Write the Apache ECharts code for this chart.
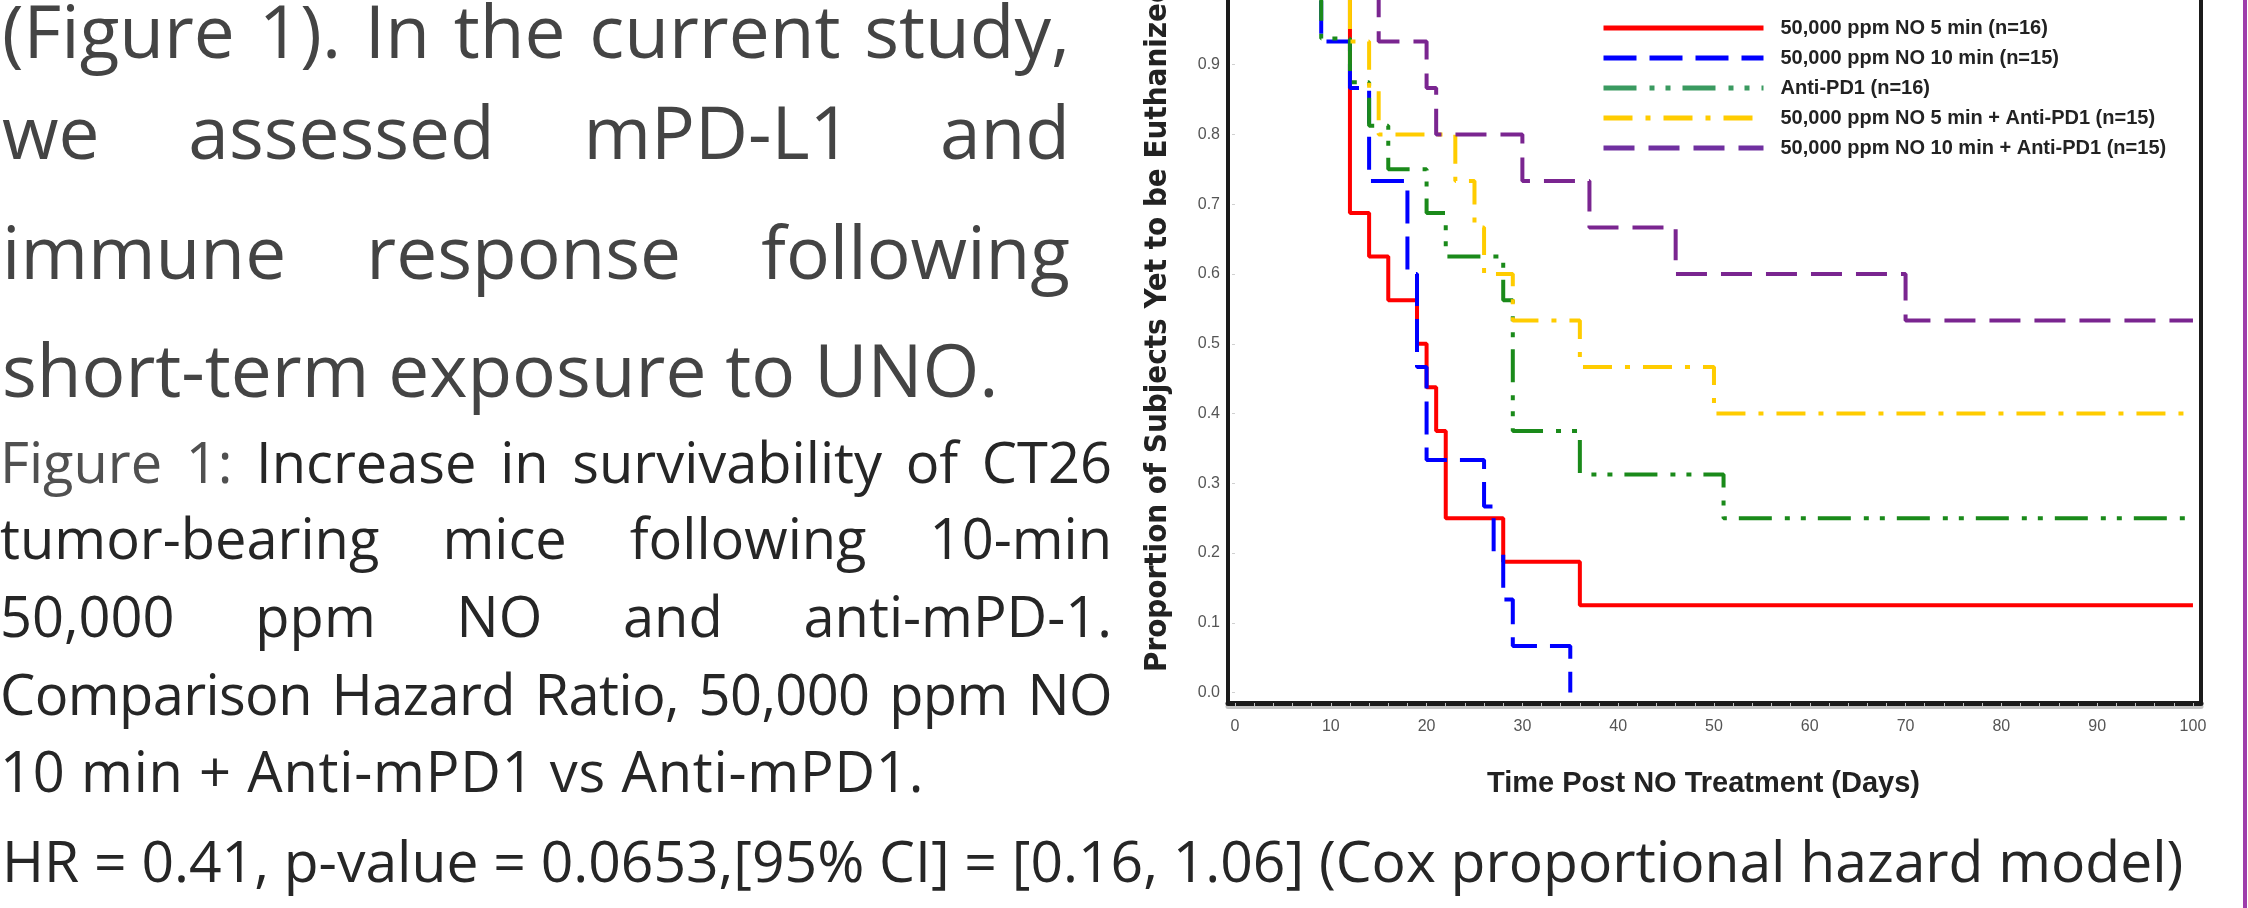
<!DOCTYPE html>
<html>
<head>
<meta charset="utf-8">
<script src="https://cdn.jsdelivr.net/npm/echarts@6/dist/echarts.min.js"></script>
<style>
  body { margin: 0; background: #fff; width: 2248px; height: 908px; overflow: hidden; position: relative; }
  #chart { position: absolute; left: 0; top: 0; width: 2248px; height: 908px; }
  .ln { position: absolute; font-family: 'Open Sans', sans-serif; line-height: 1; white-space: pre; }
</style>
</head>
<body>
<div id="chart"></div>
<script>
// survival curves: day of each step and proportion after it
const days5 = [0, 12, 14, 16, 19, 20, 21, 22, 28, 36, 100];
const surv5 = [1, 0.6875, 0.625, 0.5625, 0.5, 0.4375, 0.375, 0.25, 0.1875, 0.125, 0.125];

const days10 = [0, 9, 12, 14, 18, 19, 20, 26, 27, 28, 29, 35];
const surv10 = [1, 0.9333, 0.8667, 0.7333, 0.6, 0.4667, 0.3333, 0.2667, 0.2, 0.1333, 0.0667, 0];

const daysPD1 = [0, 9, 12, 14, 16, 20, 22, 28, 29, 36, 51, 100];
const survPD1 = [1, 0.9375, 0.875, 0.8125, 0.75, 0.6875, 0.625, 0.5625, 0.375, 0.3125, 0.25, 0.25];

const days5PD1 = [0, 12, 14, 15, 23, 25, 26, 29, 36, 50, 100];
const surv5PD1 = [1, 0.9333, 0.8667, 0.8, 0.7333, 0.6667, 0.6, 0.5333, 0.4667, 0.4, 0.4];

const days10PD1 = [0, 15, 20, 21, 30, 37, 46, 70, 100];
const surv10PD1 = [1, 0.9333, 0.8667, 0.8, 0.7333, 0.6667, 0.6, 0.5333, 0.5333];

const names = [
    '50,000 ppm NO 5 min (n=16)',
    '50,000 ppm NO 10 min (n=15)',
    'Anti-PD1 (n=16)',
    '50,000 ppm NO 5 min + Anti-PD1 (n=15)',
    '50,000 ppm NO 10 min + Anti-PD1 (n=15)'
];

const xTicks = [0, 10, 20, 30, 40, 50, 60, 70, 80, 90, 100];
const yTicks = [0, 0.1, 0.2, 0.3, 0.4, 0.5, 0.6, 0.7, 0.8, 0.9, 1.0];
const xMinorTicks = [];
for (let d = 0; d <= 100; d += 2) xMinorTicks.push(d);

function pairs(xs, ys) {
    return xs.map((x, i) => [x, ys[i]]);
}

// left hand poster text
const bigLines = [
    '(Figure 1). In the current study,',
    'we assessed mPD-L1 and',
    'immune response following',
    'short-term exposure to UNO.'
];
const captionLines = [
    'Figure 1: Increase in survivability of CT26',
    'tumor-bearing mice following 10-min',
    '50,000 ppm NO and anti-mPD-1.',
    'Comparison Hazard Ratio, 50,000 ppm NO',
    '10 min + Anti-mPD1 vs Anti-mPD1.'
];
const hrLine = 'HR = 0.41, p-value = 0.0653,[95% CI] = [0.16, 1.06] (Cox proportional hazard model)';

function addLine(text, x, baseline, size, width, color, justify, lightWords, spacing) {
    const d = document.createElement('div');
    d.className = 'ln';
    d.style.left = x + 'px';
    d.style.top = (baseline - 0.888 * size) + 'px';
    d.style.fontSize = size + 'px';
    d.style.color = color;
    if (spacing) d.style.letterSpacing = spacing + 'px';
    if (justify) {
        d.style.width = width + 'px';
        d.style.display = 'flex';
        d.style.justifyContent = 'space-between';
        text.split(/ +/).forEach((w, i) => {
            const s = document.createElement('span');
            s.textContent = w;
            if (lightWords && i < lightWords) s.style.color = '#505050';
            d.appendChild(s);
        });
    } else {
        d.textContent = text;
    }
    document.body.appendChild(d);
}

const bigBase = [58, 159, 279, 397];
bigLines.forEach((t, i) => addLine(t, 2, bigBase[i], 73, 1068, '#444', i < 3));
const capBase = [483, 559, 637, 715, 792];
captionLines.forEach((t, i) => addLine(t, 0, capBase[i], 56, 1112, '#262626', i < 4,
    i === 0 ? 2 : 0, i === 3 ? -0.6 : (i === 4 ? 0.8 : 0)));
addLine(hrLine, 2, 883, 57, 0, '#262626', false);

var chart = echarts.init(document.getElementById('chart'));

const lineW = 4;
chart.setOption({
    animation: false,
    backgroundColor: 'transparent',
    grid: {
        left: 1228,
        right: 47,
        top: -12,
        bottom: 205,
        show: true,
        borderColor: '#1b1b1b',
        borderWidth: 4,
        outerBoundsMode: 'none'
    },
    legend: {
        orient: 'vertical',
        left: 1601,
        top: 18,
        padding: 0,
        itemWidth: 160,
        itemHeight: 14,
        itemGap: 10,
        textStyle: {
            fontSize: 20,
            fontWeight: 'bold',
            color: '#222',
            fontFamily: 'Liberation Sans',
            padding: [0, 0, 0, 12]
        },
        itemStyle: { color: 'rgba(0,0,0,0)', borderWidth: 0 },
        lineStyle: { width: 5 },
        data: [
            { name: names[0] },
            { name: names[1] },
            { name: names[2], lineStyle: { color: '#3a9a60', width: 5 } },
            { name: names[3] },
            { name: names[4], lineStyle: { color: '#7030a0', width: 5 } }
        ]
    },
    xAxis: {
        type: 'value',
        min: -0.73,
        max: 100.84,
        name: 'Time Post NO Treatment (Days)',
        nameLocation: 'middle',
        nameGap: 66,
        nameTextStyle: {
            fontSize: 29,
            fontWeight: 'bold',
            color: '#222',
            fontFamily: 'Liberation Sans',
            padding: [0, 22, 0, 0]
        },
        axisLine: {
            show: true,
            onZero: false,
            lineStyle: { color: '#1b1b1b', width: 5, shadowColor: '#c4c4c4', shadowOffsetY: 3 }
        },
        axisTick: {
            show: true,
            customValues: xMinorTicks,
            length: 4,
            lineStyle: { color: '#c4c4c4', width: 1 }
        },
        axisLabel: {
            customValues: xTicks,
            margin: 16,
            fontSize: 16,
            color: '#555',
            fontFamily: 'Liberation Sans'
        },
        splitLine: { show: false }
    },
    yAxis: {
        type: 'value',
        min: -0.015,
        max: 1.01,
        axisLine: { show: false },
        axisTick: {
            show: true,
            customValues: yTicks,
            length: 3,
            lineStyle: { color: '#d0d0d0', width: 1 }
        },
        axisLabel: {
            customValues: yTicks,
            formatter: v => v.toFixed(1),
            margin: 8,
            fontSize: 16,
            color: '#555',
            fontFamily: 'Liberation Sans'
        },
        splitLine: { show: false }
    },
    graphic: [
        {
            type: 'text',
            x: 1158,
            y: 672,
            rotation: Math.PI / 2,
            style: {
                text: 'Proportion of Subjects Yet to be Euthanized',
                fontSize: 31,
                fontWeight: 'bold',
                fontFamily: '"DejaVu Sans Condensed", "DejaVu Sans"',
                fill: '#222',
                align: 'left',
                verticalAlign: 'middle'
            }
        },
        {
            type: 'rect',
            shape: { x: 2243, y: 0, width: 4, height: 908 },
            style: { fill: '#9e3dab' }
        }
    ],
    series: [
        {
            name: names[0],
            type: 'line',
            step: 'end',
            symbol: 'none',
            data: pairs(days5, surv5),
            itemStyle: { color: '#ff0000' },
            lineStyle: { color: '#ff0000', width: lineW }
        },
        {
            name: names[1],
            type: 'line',
            step: 'end',
            symbol: 'none',
            data: pairs(days10, surv10),
            itemStyle: { color: '#0000ff' },
            lineStyle: { color: '#0000ff', width: lineW, type: [33, 13] }
        },
        {
            name: names[2],
            type: 'line',
            step: 'end',
            symbol: 'none',
            data: pairs(daysPD1, survPD1),
            itemStyle: { color: '#1a8a1a' },
            lineStyle: { color: '#1a8a1a', width: lineW, type: [33, 13, 5, 11, 5, 12] }
        },
        {
            name: names[3],
            type: 'line',
            step: 'end',
            symbol: 'none',
            data: pairs(days5PD1, surv5PD1),
            itemStyle: { color: '#ffcc00' },
            lineStyle: { color: '#ffcc00', width: lineW, type: [29, 13, 5, 13] }
        },
        {
            name: names[4],
            type: 'line',
            step: 'end',
            symbol: 'none',
            data: pairs(days10PD1, surv10PD1),
            itemStyle: { color: '#7a2590' },
            lineStyle: { color: '#7a2590', width: lineW, type: [31, 14] }
        }
    ]
});
</script>
</body>
</html>
